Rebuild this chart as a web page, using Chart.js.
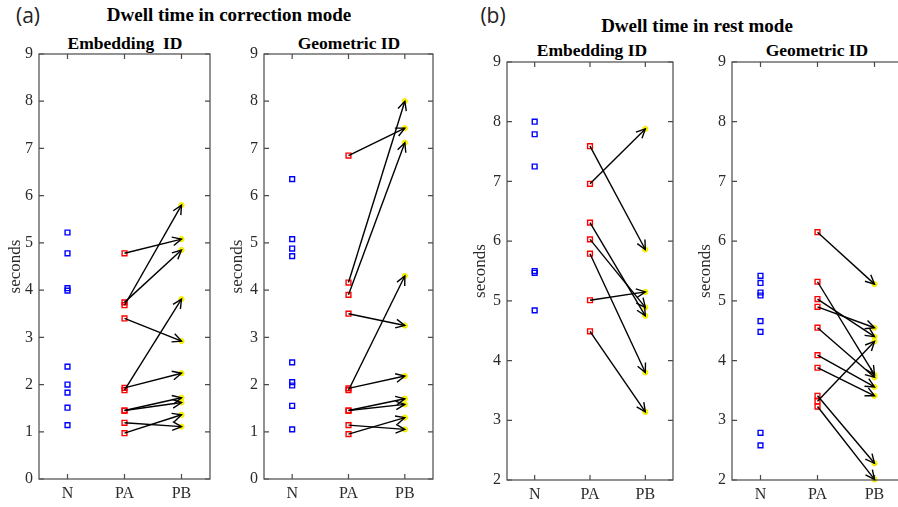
<!DOCTYPE html>
<html lang="en">
<head>
<meta charset="UTF-8">
<title>Dwell time</title>
<script src="https://cdn.jsdelivr.net/npm/chart.js@4"></script>
<style>
    body { margin: 0; width: 898px; height: 507px; overflow: hidden; background: #fff; position: relative; }
    .panel { position: absolute; top: 0; }
    .txt { position: absolute; white-space: pre; color: #000; transform: translate(-50%, -50%); line-height: 1; }
    .main { font: bold 19px 'Liberation Serif', serif; }
    .sub { font: bold 17.5px 'Liberation Serif', serif; }
    .tag { font: 21px 'Open Sans', sans-serif; color: #222; }
</style>
</head>
<body>
<div class="txt tag" style="left:28px; top:15px;">(a)</div>
<div class="txt main" style="left:229px; top:15px;">Dwell time in correction mode</div>
<div class="txt tag" style="left:493px; top:15px;">(b)</div>
<div class="txt main" style="left:697px; top:26px;">Dwell time in rest mode</div>
<div class="txt sub" style="left:125px; top:43px;">Embedding  ID</div>
<div class="txt sub" style="left:349px; top:43px;">Geometric ID</div>
<div class="txt sub" style="left:592px; top:50px;">Embedding ID</div>
<div class="txt sub" style="left:817px; top:50px;">Geometric ID</div>

<canvas id="p1" class="panel" width="222" height="507" style="left:0px"></canvas>
<canvas id="p2" class="panel" width="222" height="507" style="left:222px"></canvas>
<canvas id="p3" class="panel" width="220" height="507" style="left:465px"></canvas>
<canvas id="p4" class="panel" width="220" height="507" style="left:690px"></canvas>

<script>
    const categories = ['N', 'PA', 'PB'];

    // (a) correction mode - Embedding ID
    const corrEmbN  = [5.22, 4.78, 4.04, 3.99, 2.38, 2.00, 1.83, 1.51, 1.14];
    const corrEmbPA = [4.78, 3.68, 3.74, 3.40, 1.88, 1.93, 1.45, 1.45, 1.19, 0.97];
    const corrEmbPB = [5.08, 5.80, 4.85, 2.92, 3.81, 2.24, 1.72, 1.62, 1.11, 1.36];

    // (a) correction mode - Geometric ID
    const corrGeoN  = [6.35, 5.08, 4.88, 4.72, 2.47, 2.05, 1.98, 1.55, 1.05];
    const corrGeoPA = [6.85, 4.16, 3.90, 3.50, 1.88, 1.92, 1.45, 1.45, 1.14, 0.95];
    const corrGeoPB = [7.43, 8.00, 7.12, 3.25, 4.30, 2.18, 1.70, 1.58, 1.05, 1.30];

    // (b) rest mode - Embedding ID
    const restEmbN  = [8.00, 7.79, 7.25, 5.50, 5.47, 4.84];
    const restEmbPA = [6.96, 7.59, 6.31, 6.03, 5.79, 5.01, 4.49];
    const restEmbPB = [7.88, 5.86, 4.75, 4.89, 3.80, 5.15, 3.14];

    // (b) rest mode - Geometric ID
    const restGeoN  = [5.42, 5.30, 5.14, 5.09, 4.66, 4.48, 2.79, 2.58];
    const restGeoPA = [6.15, 5.32, 5.03, 4.90, 4.55, 4.09, 3.88, 3.32, 3.41, 3.23];
    const restGeoPB = [5.28, 3.76, 4.40, 4.55, 3.72, 3.56, 3.41, 4.32, 2.28, 2.01];

    const axisColor = '#4a4a4a';
    const textColor = '#2b2b2b';
    const serif = "'Liberation Serif', 'Times New Roman', serif";

    // box around the axes, inward ticks on all sides, arrow heads at PB end
    const boxTicks = {
        id: 'boxTicks',
        afterDatasetsDraw(chart) {
            const { ctx, chartArea: a, scales: { x, y } } = chart;
            ctx.save();
            ctx.strokeStyle = axisColor;
            ctx.lineWidth = 1.2;
            ctx.strokeRect(a.left, a.top, a.right - a.left, a.bottom - a.top);
            ctx.beginPath();
            y.ticks.forEach(t => {
                const py = y.getPixelForValue(t.value);
                ctx.moveTo(a.left, py); ctx.lineTo(a.left + 5, py);
                ctx.moveTo(a.right, py); ctx.lineTo(a.right - 5, py);
            });
            x.ticks.forEach(t => {
                const px = x.getPixelForValue(t.value);
                ctx.moveTo(px, a.bottom); ctx.lineTo(px, a.bottom - 5);
                ctx.moveTo(px, a.top); ctx.lineTo(px, a.top + 5);
            });
            ctx.stroke();

            ctx.strokeStyle = '#000';
            ctx.lineWidth = 1.4;
            chart.data.datasets.forEach((ds, i) => {
                if (!ds.arrow) return;
                const pts = chart.getDatasetMeta(i).data;
                const p0 = pts[0], p1 = pts[1];
                const ang = Math.atan2(p1.y - p0.y, p1.x - p0.x);
                const len = 10, spread = 0.45;
                ctx.beginPath();
                ctx.moveTo(p1.x - len * Math.cos(ang - spread), p1.y - len * Math.sin(ang - spread));
                ctx.lineTo(p1.x, p1.y);
                ctx.lineTo(p1.x - len * Math.cos(ang + spread), p1.y - len * Math.sin(ang + spread));
                ctx.stroke();
            });
            ctx.restore();
        }
    };

    function makePanel(id, nVals, paVals, pbVals, yMin, yWidth, padRight, padTop, xHeight) {
        const datasets = [];
        paVals.forEach((v, i) => {
            datasets.push({
                arrow: true,
                data: [{ x: 2, y: v }, { x: 3, y: pbVals[i] }],
                showLine: true,
                borderColor: '#000',
                borderWidth: 1.4,
                pointRadius: 0,
                clip: false
            });
        });
        datasets.push({
            data: pbVals.map(v => ({ x: 3, y: v })),
            pointStyle: 'circle', pointRadius: 2.6,
            backgroundColor: '#ffff00', borderColor: '#f2e600', borderWidth: 1, clip: false
        });
        datasets.push({
            data: paVals.map(v => ({ x: 2, y: v })),
            pointStyle: 'rect', pointRadius: 3.4,
            backgroundColor: 'rgba(0,0,0,0)', borderColor: '#ff0000', borderWidth: 1.4, clip: false
        });
        datasets.push({
            data: nVals.map(v => ({ x: 1, y: v })),
            pointStyle: 'rect', pointRadius: 3.4,
            backgroundColor: 'rgba(0,0,0,0)', borderColor: '#0000ff', borderWidth: 1.4, clip: false
        });

        new Chart(document.getElementById(id), {
            type: 'scatter',
            data: { datasets },
            options: {
                responsive: false,
                animation: false,
                events: [],
                layout: { padding: { top: padTop, right: padRight, left: 0, bottom: 0 } },
                plugins: { legend: { display: false }, tooltip: { enabled: false } },
                scales: {
                    x: {
                        type: 'linear', min: 0.5, max: 3.5,
                        grid: { display: false, drawTicks: false }, border: { display: false },
                        afterBuildTicks: s => { s.ticks = [1, 2, 3].map(v => ({ value: v })); },
                        afterFit: s => { s.height = xHeight; },
                        ticks: {
                            padding: 5, maxRotation: 0, color: textColor,
                            font: { family: serif, size: 16 },
                            callback: v => categories[v - 1]
                        }
                    },
                    y: {
                        min: yMin, max: 9,
                        grid: { display: false, drawTicks: false }, border: { display: false },
                        afterFit: s => { s.width = yWidth; },
                        ticks: { stepSize: 1, padding: 6, color: textColor, font: { family: serif, size: 16 } },
                        title: {
                            display: true, text: 'seconds', color: textColor,
                            font: { family: serif, size: 17 },
                            padding: { top: 5, bottom: 0 }
                        }
                    }
                }
            },
            plugins: [boxTicks]
        });
    }

    makePanel('p1', corrEmbN, corrEmbPA, corrEmbPB, 0, 39, 12, 54, 28);
    makePanel('p2', corrGeoN, corrGeoPA, corrGeoPB, 0, 42, 11, 54, 28);
    makePanel('p3', restEmbN, restEmbPA, restEmbPB, 2, 42, 12, 62, 27);
    makePanel('p4', restGeoN, restGeoPA, restGeoPB, 2, 42, 7, 62, 27);
</script>
</body>
</html>
